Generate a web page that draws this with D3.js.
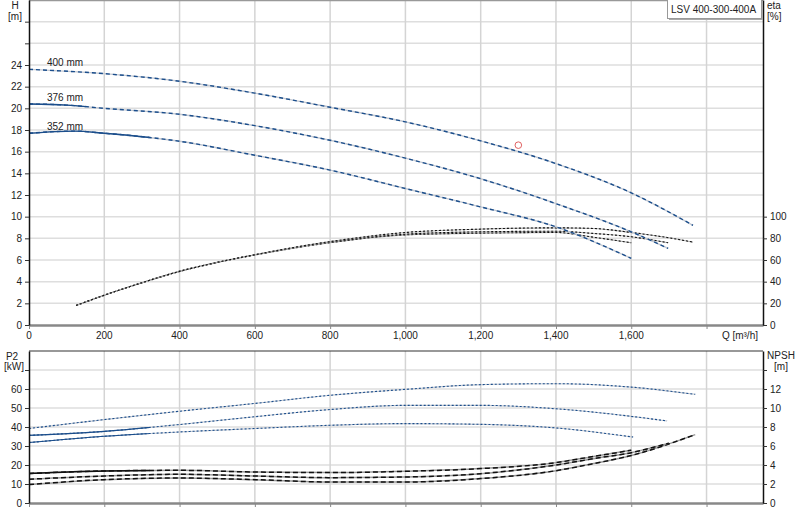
<!DOCTYPE html>
<html>
<head>
<meta charset="utf-8">
<script src="https://cdn.jsdelivr.net/npm/d3@7"></script>
<style>
  body { margin: 0; background: #fff; }
  svg { font-family: "Liberation Sans", Arial, sans-serif; font-size: 10px; }
  .tick text { fill: #222; font-size: 10px; }
  .lbl { fill: #222; font-size: 10px; }
</style>
</head>
<body>
<svg id="chart" width="800" height="520"></svg>
<script>
// pump model
const title = "LSV 400-300-400A";
const impellers = ["400 mm", "376 mm", "352 mm"];

// head curves H [m] vs Q [m3/h]
const qH400 = [0, 200, 400, 600, 800, 1000, 1200, 1400, 1600, 1764];
const h400  = [23.6, 23.2, 22.5, 21.4, 20.1, 18.75, 17.0, 14.9, 12.2, 9.2];
const qH376 = [0, 100, 200, 400, 600, 800, 1000, 1200, 1400, 1600, 1698];
const h376  = [20.4, 20.3, 20.0, 19.45, 18.4, 17.05, 15.4, 13.5, 11.2, 8.6, 7.07];
const qH352 = [0, 120, 200, 400, 600, 800, 1000, 1200, 1400, 1600];
const h352  = [17.7, 17.9, 17.7, 16.96, 15.67, 14.3, 12.6, 10.9, 9.06, 6.15];

// efficiency curves eta [%]
const qE400 = [125, 200, 300, 400, 500, 600, 800, 1000, 1200, 1400, 1500, 1600, 1700, 1764];
const e400  = [18, 27.5, 39, 49.5, 57.8, 64.9, 77, 85.4, 88.5, 89.7, 89.1, 85.4, 80.5, 76.5];
const qE376 = [125, 200, 300, 400, 500, 600, 800, 1000, 1200, 1400, 1500, 1600, 1698];
const e376  = [18, 27.5, 39, 49.5, 57.8, 64.8, 76.5, 83.8, 86.0, 86.6, 84.5, 81.4, 75.9];
const qE352 = [125, 200, 300, 400, 500, 600, 800, 1000, 1200, 1400, 1500, 1600];
const e352  = [18, 27.5, 39, 49.5, 57.7, 64.6, 76, 83.2, 84.8, 85.4, 81, 75.9];

// shaft power P2 [kW]
const qP400 = [0, 200, 400, 600, 800, 1000, 1200, 1400, 1600, 1770];
const p400  = [39.2, 43.9, 48.3, 52.4, 56.7, 59.8, 62.3, 62.8, 61.0, 57.2];
const qP376 = [0, 200, 400, 600, 800, 1000, 1200, 1400, 1600, 1695];
const p376  = [35.6, 37.7, 41.3, 45.4, 49.2, 51.4, 51.4, 49.6, 45.6, 43.2];
const qP352 = [0, 200, 400, 600, 800, 1000, 1200, 1400, 1605];
const p352  = [31.8, 35.1, 37.4, 39.2, 40.9, 41.8, 41.4, 39.5, 34.7];

// NPSH [m]
const qN400 = [0, 200, 400, 600, 800, 1000, 1200, 1400, 1500, 1600, 1770];
const n400  = [1.94, 2.46, 2.63, 2.46, 2.21, 2.21, 2.57, 3.4, 4.15, 5.0, 7.2];
const qN376 = [0, 200, 400, 600, 800, 1000, 1200, 1400, 1500, 1600, 1700];
const n376  = [2.5, 2.84, 3.02, 2.84, 2.67, 2.74, 3.09, 4.0, 4.67, 5.3, 6.3];
const qN352 = [0, 200, 400, 600, 800, 1000, 1200, 1400, 1500, 1600];
const n352  = [3.1, 3.37, 3.44, 3.26, 3.2, 3.34, 3.62, 4.25, 4.9, 5.55];

// duty point
const dutyQ = 1300, dutyH = 16.6;

// tick values
const qTicks = [0, 200, 400, 600, 800, 1000, 1200, 1400, 1600];
const qGrid = [200, 400, 600, 800, 1000, 1200, 1400, 1600, 1800];
const hTicks = [0, 2, 4, 6, 8, 10, 12, 14, 16, 18, 20, 22, 24];
const etaTicks = [0, 20, 40, 60, 80, 100];
const pTicks = [0, 10, 20, 30, 40, 50, 60];
const nTicks = [0, 2, 4, 6, 8, 10, 12];

const svg = d3.select("#chart");
const L = 29, R = 763;
const x = d3.scaleLinear().domain([0, 1950]).range([L, R]);
// upper panel
const yH = d3.scaleLinear().domain([0, 30]).range([325, 0]);
const yE = d3.scaleLinear().domain([0, 300]).range([325, 0]);
// lower panel
const yP = d3.scaleLinear().domain([0, 80]).range([503, 351]);
const yN = d3.scaleLinear().domain([0, 16]).range([503, 351]);

const zip = (qs, vs) => qs.map((q, i) => ({ q, v: vs[i] }));
const defs = svg.append("defs");

function grid(y, hVals, top, bottom) {
  const g = svg.append("g").attr("class", "grid");
  g.selectAll(".h").data(hVals).join("line")
    .attr("x1", L).attr("x2", R)
    .attr("y1", d => y(d)).attr("y2", d => y(d))
    .attr("stroke", "#dedede").attr("stroke-width", 1.5);
  g.selectAll(".v").data(qGrid).join("line")
    .attr("x1", d => x(d)).attr("x2", d => x(d))
    .attr("y1", top).attr("y2", bottom)
    .attr("stroke", "#d4d4d4").attr("stroke-width", 1.5);
}

grid(yH, d3.range(2, 30, 2), 0, 325);
grid(yP, d3.range(10, 80, 10), 351, 503);

// clip rects for the solid start of some curves
function clipTo(id, q) {
  defs.append("clipPath").attr("id", id).append("rect")
    .attr("x", 0).attr("y", 0).attr("width", x(q)).attr("height", 520);
}
clipTo("c150", 150);
clipTo("c320", 320);

function curve(data, y, color, under, dash, width, solidClip) {
  const line = d3.line().x(d => x(d.q)).y(d => y(d.v)).curve(d3.curveMonotoneX);
  const g = svg.append("g");
  g.append("path").attr("d", line(data)).attr("fill", "none")
    .attr("stroke", under).attr("stroke-width", width);
  g.append("path").attr("d", line(data)).attr("fill", "none")
    .attr("stroke", color).attr("stroke-width", width)
    .attr("stroke-dasharray", dash);
  if (solidClip) {
    g.append("path").attr("d", line(data)).attr("fill", "none")
      .attr("stroke", color).attr("stroke-width", width)
      .attr("clip-path", `url(#${solidClip})`);
  }
}

const blue = "#1b4e8c", blueUnder = "#c3c9d3";
// efficiency
curve(zip(qE352, e352), yE, "#111", "#b0b0b0", "2,2", 1.1);
curve(zip(qE376, e376), yE, "#111", "#b0b0b0", "2,2", 1.1);
curve(zip(qE400, e400), yE, "#111", "#b0b0b0", "2,2", 1.1);
// head
curve(zip(qH400, h400), yH, blue, blueUnder, "4,3", 1.4);
curve(zip(qH376, h376), yH, blue, blueUnder, "4,3", 1.4, "c150");
curve(zip(qH352, h352), yH, blue, blueUnder, "4,3", 1.4, "c320");
// power
curve(zip(qP400, p400), yP, blue, blueUnder, "2,2", 1.1);
curve(zip(qP376, p376), yP, blue, blueUnder, "2,2", 1.1, "c320");
curve(zip(qP352, p352), yP, blue, blueUnder, "2,2", 1.1, "c320");
// NPSH
curve(zip(qN400, n400), yN, "#111", "#9a9a9a", "5,3", 1.5);
curve(zip(qN376, n376), yN, "#111", "#9a9a9a", "5,3", 1.5);
curve(zip(qN352, n352), yN, "#111", "#9a9a9a", "5,3", 1.5, "c320");

// duty point
svg.append("circle").attr("cx", x(dutyQ)).attr("cy", yH(dutyH)).attr("r", 3.3)
  .attr("fill", "none").attr("stroke", "#e06060").attr("stroke-width", 1);

// impeller labels
const labelH = [23.6, 20.4, 17.7];
svg.selectAll(".imp").data(impellers).join("text")
  .attr("class", "lbl")
  .attr("x", 47).attr("y", (d, i) => yH(labelH[i]) - 3)
  .text(d => d);

// frames
svg.append("line").attr("x1", L).attr("x2", R).attr("y1", 0.5).attr("y2", 0.5)
  .attr("stroke", "#999").attr("stroke-width", 1.5);
svg.append("line").attr("x1", L).attr("x2", R).attr("y1", 351).attr("y2", 351)
  .attr("stroke", "#333").attr("stroke-width", 1.2);

function styleAxis(g, color, w) {
  g.select(".domain").attr("stroke", color).attr("stroke-width", w);
  g.selectAll(".tick line").attr("stroke", "#333");
}

// x axes (grey baselines)
const xAxis = d3.axisBottom(x).tickValues(qGrid.concat([0])).tickSize(4).tickFormat("").tickSizeOuter(0);
svg.append("g").attr("transform", "translate(0,325)").call(xAxis)
  .call(g => styleAxis(g, "#888", 2.5)).call(g => g.selectAll(".tick line").attr("stroke", "#888"));
svg.append("g").attr("transform", "translate(0,503)").call(xAxis)
  .call(g => styleAxis(g, "#888", 2.5)).call(g => g.selectAll(".tick line").attr("stroke", "#888"));
svg.append("g").selectAll("text").data(qTicks).join("text")
  .attr("class", "lbl").attr("x", d => x(d)).attr("y", 339)
  .attr("text-anchor", "middle").text(d3.format(","));
svg.append("text").attr("class", "lbl").attr("x", 758).attr("y", 339)
  .attr("text-anchor", "end").text("Q [m³/h]");

// left / right y axes
svg.append("g").attr("transform", `translate(${L},0)`)
  .call(d3.axisLeft(yH).tickValues(hTicks.concat([26, 28])).tickSize(4).tickPadding(3).tickSizeOuter(0)
    .tickFormat(d => d > 24 ? "" : d))
  .call(g => styleAxis(g, "#111", 1.5));
svg.append("g").attr("transform", `translate(${R},0)`)
  .call(d3.axisRight(yE).tickValues(etaTicks).tickSize(4).tickPadding(3).tickSizeOuter(0))
  .call(g => styleAxis(g, "#111", 1.5));
svg.append("g").attr("transform", `translate(${L},0)`)
  .call(d3.axisLeft(yP).tickValues(pTicks.concat([70])).tickSize(4).tickPadding(3).tickSizeOuter(0)
    .tickFormat(d => d > 60 ? "" : d))
  .call(g => styleAxis(g, "#111", 1.5));
svg.append("g").attr("transform", `translate(${R},0)`)
  .call(d3.axisRight(yN).tickValues(nTicks.concat([14])).tickSize(4).tickPadding(3).tickSizeOuter(0)
    .tickFormat(d => d > 12 ? "" : d))
  .call(g => styleAxis(g, "#111", 1.5));
svg.selectAll(".tick text").attr("font-size", 10).attr("fill", "#222");

// axis titles
const titles = [
  ["H", 15, 9, "middle"], ["[m]", 15, 20, "middle"],
  ["eta", 767, 9, "start"], ["[%]", 767, 20, "start"],
  ["P2", 12, 360, "middle"], ["[kW]", 14, 370, "middle"],
  ["NPSH", 781, 359, "middle"], ["[m]", 781, 370, "middle"]
];
svg.selectAll(".ttl").data(titles).join("text")
  .attr("class", "lbl").attr("x", d => d[1]).attr("y", d => d[2])
  .attr("text-anchor", d => d[3]).text(d => d[0]);

// title box
const box = svg.append("g");
box.append("rect").attr("x", 669).attr("y", 1).attr("width", 94).attr("height", 19)
  .attr("fill", "#aaa");
box.append("rect").attr("x", 667.5).attr("y", -0.5).attr("width", 94).attr("height", 19)
  .attr("fill", "#fff").attr("stroke", "#999");
box.append("text").attr("class", "lbl").attr("x", 671).attr("y", 12.5).text(title);
</script>
</body>
</html>
